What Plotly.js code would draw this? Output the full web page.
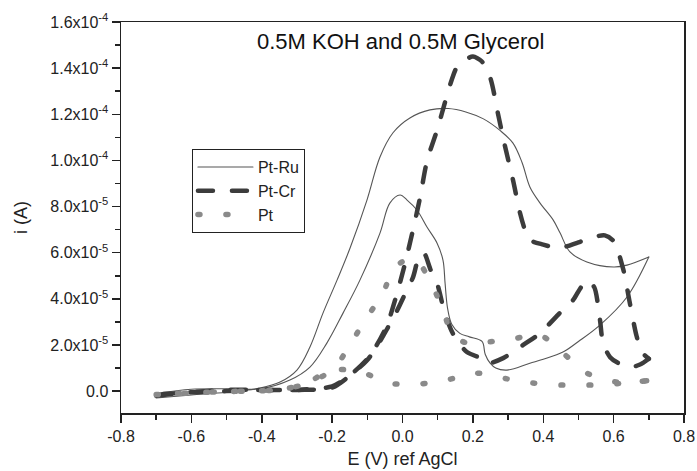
<!DOCTYPE html>
<html>
<head>
<meta charset="utf-8">
<script src="https://cdn.plot.ly/plotly-3.0.1.min.js"></script>
<style>
  html, body { margin: 0; padding: 0; background: #fff; }
  #chart { width: 697px; height: 471px; }
  .js-line { stroke-linecap: round; }
</style>
</head>
<body>
<div id="chart"></div>
<script>
// ---- Data (E in V vs AgCl, i in A) ----
// Pt-Ru: forward (anodic) and reverse scan
var ptRuFwdE = [-0.70,-0.60,-0.50,-0.405,-0.348,-0.30,-0.263,-0.226,-0.186,-0.149,-0.101,-0.064,-0.027,0.021,0.078,0.13,0.18,0.23,0.277,0.314,0.34,0.362,0.391,0.428,0.448,0.476,0.524,0.60,0.638,0.70];
var ptRuFwdI = [-0.30e-5,-0.17e-5,-0.05e-5,0.13e-5,0.39e-5,0.91e-5,1.91e-5,3.38e-5,4.81e-5,6.2e-5,8.28e-5,10.15e-5,11.2e-5,11.84e-5,12.19e-5,12.25e-5,12.1e-5,11.8e-5,11.3e-5,10.75e-5,9.9e-5,8.85e-5,8.15e-5,7.42e-5,6.85e-5,6.03e-5,5.6e-5,5.38e-5,5.46e-5,5.81e-5];
var ptRuRevE = [0.70,0.638,0.561,0.50,0.456,0.40,0.362,0.297,0.265,0.249,0.235,0.226,0.19,0.163,0.14,0.128,0.121,0.115,0.098,0.07,0.041,0.013,-0.007,-0.036,-0.064,-0.121,-0.169,-0.215,-0.263,-0.32,-0.405,-0.50,-0.60,-0.70];
var ptRuRevI = [5.81e-5,4.08e-5,2.86e-5,2.15e-5,1.69e-5,1.38e-5,1.21e-5,0.91e-5,1.0e-5,1.21e-5,1.6e-5,2.15e-5,2.35e-5,2.5e-5,2.9e-5,3.6e-5,4.68e-5,5.68e-5,6.42e-5,7.1e-5,7.85e-5,8.28e-5,8.5e-5,8.15e-5,6.85e-5,4.81e-5,3.38e-5,2.08e-5,1.04e-5,0.48e-5,0.10e-5,0.10e-5,0.08e-5,-0.10e-5];

// Pt-Cr: forward and reverse scan
var ptCrFwdE = [-0.70,-0.60,-0.50,-0.40,-0.30,-0.24,-0.20,-0.155,-0.098,-0.073,-0.044,-0.02,0.005,0.03,0.05,0.07,0.098,0.126,0.14,0.155,0.183,0.20,0.225,0.249,0.271,0.29,0.314,0.334,0.35,0.362,0.40,0.445,0.50,0.55,0.575,0.60,0.627,0.645,0.665,0.68,0.70];
var ptCrFwdI = [-0.20e-5,-0.05e-5,0.0,0.05e-5,0.05e-5,0.12e-5,0.20e-5,0.61e-5,1.43e-5,2.0e-5,2.86e-5,4.0e-5,5.4e-5,7.0e-5,8.4e-5,10.0e-5,11.3e-5,12.8e-5,13.5e-5,14.05e-5,14.4e-5,14.5e-5,14.3e-5,13.6e-5,12.05e-5,10.7e-5,9.15e-5,7.72e-5,6.9e-5,6.55e-5,6.35e-5,6.2e-5,6.45e-5,6.7e-5,6.75e-5,6.5e-5,5.3e-5,3.9e-5,2.4e-5,1.7e-5,1.4e-5];
var ptCrRevE = [0.70,0.675,0.647,0.615,0.59,0.57,0.562,0.555,0.545,0.524,0.505,0.485,0.448,0.39,0.343,0.286,0.24,0.229,0.183,0.143,0.12,0.098,0.08,0.06,0.044,0.03,0.01,-0.015,-0.04,-0.07,-0.10,-0.155,-0.20,-0.30,-0.40,-0.50,-0.60,-0.70];
var ptCrRevI = [1.4e-5,1.15e-5,1.04e-5,1.2e-5,1.47e-5,2.08e-5,3.0e-5,3.8e-5,4.5e-5,4.81e-5,4.45e-5,3.95e-5,3.4e-5,2.5e-5,2.0e-5,1.43e-5,1.2e-5,1.39e-5,1.69e-5,2.5e-5,3.4e-5,4.68e-5,5.25e-5,6.0e-5,5.68e-5,4.94e-5,4.3e-5,3.5e-5,2.8e-5,2.0e-5,1.35e-5,0.6e-5,0.15e-5,0.05e-5,0.05e-5,0.05e-5,-0.05e-5,-0.15e-5];

// Pt: forward and reverse scan
var ptFwdE = [-0.70,-0.60,-0.50,-0.42,-0.368,-0.286,-0.20,-0.149,-0.107,-0.058,-0.027,0.005,0.041,0.084,0.115,0.143,0.18,0.226,0.297,0.39,0.456,0.524,0.609,0.694];
var ptFwdI = [-0.15e-5,-0.08e-5,-0.02e-5,0.0,0.04e-5,0.26e-5,0.91e-5,2.0e-5,3.08e-5,4.16e-5,5.25e-5,5.65e-5,5.64e-5,4.6e-5,3.5e-5,2.43e-5,2.1e-5,2.12e-5,2.2e-5,2.43e-5,1.65e-5,0.78e-5,0.39e-5,0.45e-5];
var ptRevE = [0.694,0.609,0.533,0.453,0.368,0.29,0.206,0.126,0.041,-0.041,-0.121,-0.20,-0.286,-0.368,-0.45,-0.55,-0.65,-0.70];
var ptRevI = [0.45e-5,0.32e-5,0.26e-5,0.26e-5,0.35e-5,0.55e-5,0.78e-5,0.48e-5,0.30e-5,0.35e-5,0.85e-5,0.90e-5,0.26e-5,0.04e-5,0.0,-0.05e-5,-0.10e-5,-0.15e-5];

// Tick labels
var xTickVals = [-0.8,-0.6,-0.4,-0.2,0.0,0.2,0.4,0.6,0.8];
var xTickText = ["-0.8","-0.6","-0.4","-0.2","0.0","0.2","0.4","0.6","0.8"];
var yTickVals = [0,2e-5,4e-5,6e-5,8e-5,1.0e-4,1.2e-4,1.4e-4,1.6e-4];
var yTickText = ["0.0","2.0x10<sup>-5</sup>","4.0x10<sup>-5</sup>","6.0x10<sup>-5</sup>","8.0x10<sup>-5</sup>","1.0x10<sup>-4</sup>","1.2x10<sup>-4</sup>","1.4x10<sup>-4</sup>","1.6x10<sup>-4</sup>"];

var chartTitle = "0.5M KOH and 0.5M Glycerol";
var xTitle = "E (V) ref AgCl";
var yTitle = "i (A)";

// ---- Styles ----
var FONT = "Arial, 'Liberation Sans', sans-serif";
var ruLine = {color:'#555555', width:1.1, shape:'spline', smoothing:1.0};
var crLine = {color:'#3c3c3c', width:4.5, dash:'15px,19px', shape:'spline', smoothing:0.8};
var ptLine = {color:'#8a8a8a', width:5.5, dash:'2px,26px', shape:'spline', smoothing:0.8};

var traces = [
  {x: ptRuFwdE, y: ptRuFwdI, mode:'lines', name:'Pt-Ru', legendgroup:'ru', line: ruLine, hoverinfo:'skip'},
  {x: ptRuRevE, y: ptRuRevI, mode:'lines', name:'Pt-Ru', legendgroup:'ru', showlegend:false, line: ruLine, hoverinfo:'skip'},
  {x: ptCrFwdE, y: ptCrFwdI, mode:'lines', name:'Pt-Cr', legendgroup:'cr', line: crLine, hoverinfo:'skip'},
  {x: ptCrRevE, y: ptCrRevI, mode:'lines', name:'Pt-Cr', legendgroup:'cr', showlegend:false, line: crLine, hoverinfo:'skip'},
  {x: ptFwdE, y: ptFwdI, mode:'lines', name:'Pt', legendgroup:'pt', line: ptLine, hoverinfo:'skip'},
  {x: ptRevE, y: ptRevI, mode:'lines', name:'Pt', legendgroup:'pt', showlegend:false, line: ptLine, hoverinfo:'skip'}
];

var axisCommon = {
  showgrid:false, zeroline:false, showline:true, mirror:true,
  linecolor:'#222', linewidth:1.5,
  ticks:'outside', ticklen:8, tickwidth:1.5, tickcolor:'#222',
  tickfont:{family:FONT, size:16, color:'#222'},
  tickmode:'array'
};

var layout = {
  width:697, height:471,
  margin:{l:121, r:13, t:22, b:58, pad:0},
  paper_bgcolor:'#fff', plot_bgcolor:'#fff',
  font:{family:FONT, color:'#222'},
  showlegend:true,
  legend:{x:0.126, y:0.675, xanchor:'left', yanchor:'top',
          bgcolor:'#fff', bordercolor:'#222', borderwidth:1,
          font:{family:FONT, size:16, color:'#222'},
          tracegroupgap:0, itemwidth:55},
  xaxis: Object.assign({}, axisCommon, {
    range:[-0.8, 0.8], tickvals:xTickVals, ticktext:xTickText,
    minor:{tickmode:'linear', tick0:0, dtick:0.1, ticks:'outside', ticklen:5, tickwidth:1.5, tickcolor:'#222', showgrid:false},
    title:{text:xTitle, font:{family:FONT, size:18, color:'#222'}, standoff:8}
  }),
  yaxis: Object.assign({}, axisCommon, {
    range:[-0.95e-5, 1.6e-4], tickvals:yTickVals, ticktext:yTickText,
    minor:{tickmode:'linear', tick0:0, dtick:1e-5, ticks:'outside', ticklen:5, tickwidth:1.5, tickcolor:'#222', showgrid:false},
    title:{text:yTitle, font:{family:FONT, size:18, color:'#222'}, standoff:18}
  }),
  annotations:[{
    text: chartTitle, xref:'paper', yref:'paper', x:0.497, y:0.949,
    xanchor:'center', yanchor:'middle', showarrow:false,
    font:{family:FONT, size:22, color:'#111'}
  }]
};

Plotly.newPlot('chart', traces, layout, {staticPlot:true, displayModeBar:false});
</script>
</body>
</html>
